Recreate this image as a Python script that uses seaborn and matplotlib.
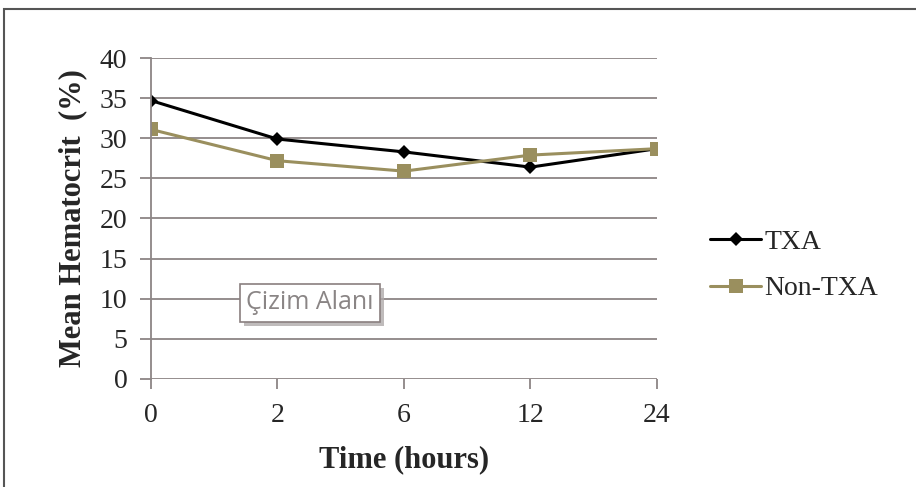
import numpy as np
import pandas as pd
import matplotlib.pyplot as plt
import matplotlib.patheffects as pe
import seaborn as sns
from matplotlib.patches import Rectangle

# data
time_labels = ["0", "2", "6", "12", "24"]
txa = [34.7, 29.9, 28.3, 26.4, 28.7]
non_txa = [31.1, 27.2, 25.9, 27.9, 28.7]
series_names = ["TXA", "Non-TXA"]
y_ticks = [0, 5, 10, 15, 20, 25, 30, 35, 40]

df = pd.DataFrame({
    "pos": list(range(len(time_labels))) * 2,
    "value": txa + non_txa,
    "group": [series_names[0]] * len(txa) + [series_names[1]] * len(non_txa),
})

sns.set_theme(style="white")
plt.rcParams["font.family"] = ["Liberation Serif", "DejaVu Serif"]

grid_col = "#8c8585"
olive = "#9a8f5e"

fig = plt.figure(figsize=(9.16, 4.87), dpi=100)
ax = fig.add_axes([0.1648, 0.2218, 0.5524, 0.6591])

sns.lineplot(data=df, x="pos", y="value", hue="group", style="group",
             palette={"TXA": "black", "Non-TXA": olive},
             markers={"TXA": "D", "Non-TXA": "s"}, dashes=False,
             linewidth=2.2, ax=ax)
for line in ax.lines:
    if line.get_marker() == "D":
        line.set_markersize(7)
    else:
        line.set_markersize(10)
    line.set_markeredgewidth(0)

ax.set_xlim(0, len(time_labels) - 1)
ax.set_ylim(0, 40)
ax.set_xticks(range(len(time_labels)))
ax.set_xticklabels(time_labels)
ax.set_yticks(y_ticks)
ax.yaxis.grid(True, color=grid_col, linewidth=1.3)
ax.set_axisbelow(True)
for side in ["top", "right", "bottom"]:
    ax.spines[side].set_visible(False)
ax.spines["left"].set_color(grid_col)
ax.spines["left"].set_linewidth(1.3)
ax.tick_params(axis="y", length=8, width=1.3, color=grid_col, pad=9,
               labelsize=20, left=True)
ax.tick_params(axis="x", length=7, width=1.3, color=grid_col, pad=10,
               labelsize=20, bottom=True)

ax.set_xlabel("Time (hours)", fontsize=22, fontweight="bold", labelpad=13)
ax.set_ylabel("Mean Hematocrit  (%)", fontsize=22, fontweight="bold", labelpad=9)

ax.get_legend().remove()
handles, labels = ax.get_legend_handles_labels()
fig.legend(handles, labels, loc="center left", bbox_to_anchor=(0.775, 0.455),
           frameon=False, fontsize=20, labelspacing=0.75, handlelength=1.85,
           handletextpad=0.1, borderaxespad=0, borderpad=0)

# "Çizim Alanı" tooltip with a small shadow
tip = ax.text(0.314, 0.237, "Çizim Alanı", transform=ax.transAxes, fontsize=18,
              family=["Open Sans", "DejaVu Sans"], color="#8a8585", zorder=5,
              ha="center", va="center",
              bbox=dict(boxstyle="square,pad=0.25", fc="white", ec="#8a7f7f", lw=1.2))
tip.get_bbox_patch().set_path_effects(
    [pe.SimplePatchShadow(offset=(3, -3), shadow_rgbFace="#b0aaaa", alpha=0.8),
     pe.Normal()])

# outer frame of the figure
fig.patches.append(Rectangle((4 / 916, -0.1), 1.2, 1.1 - 9 / 487,
                             transform=fig.transFigure, fill=False,
                             ec="#555555", lw=1.5))

fig.savefig("out.png", dpi=100)
